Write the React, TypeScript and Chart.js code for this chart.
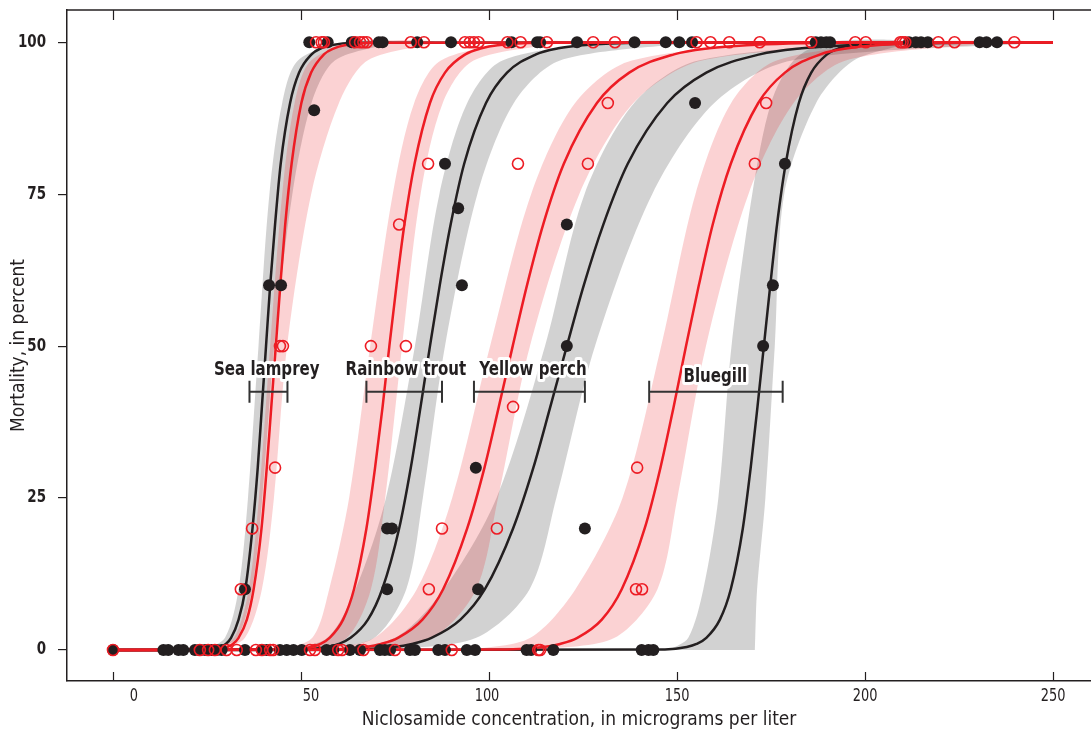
import React, { useEffect, useRef } from 'react';
import { Chart, registerables } from 'chart.js';

Chart.register(...registerables);

// ---------- axes ----------
const X_TICKS = [0, 50, 100, 150, 200, 250];
const Y_TICKS = [0, 25, 50, 75, 100];
const X_MIN = -12.23;
const X_MAX = 260.1;
const Y_MIN = -5.1;
const Y_MAX = 105.3;

// ---------- fitted curves: x (µg/L) read at each mortality level (%) ----------
const CURVE_LEVELS = [0, 0.1, 0.5, 1, 2, 5, 10, 20, 30, 40, 50, 60, 70, 80, 90, 95, 98, 99, 99.5, 99.9, 100];
const LAMPREY_BLACK = [0, 25.7, 28.6, 30.0, 31.4, 33.4, 35.2, 37.1, 38.5, 39.6, 40.7, 41.8, 43.1, 44.6, 47.1, 49.5, 52.8, 55.3, 57.9, 64.5, 250];
const LAMPREY_RED = [0, 27.3, 30.4, 31.9, 33.4, 35.6, 37.4, 39.5, 40.9, 42.1, 43.3, 44.5, 45.8, 47.5, 50.1, 52.7, 56.1, 58.8, 61.6, 68.6, 250];
const TROUT_RED = [0, 47.7, 52.8, 55.2, 57.6, 61.2, 64.1, 67.4, 69.7, 71.7, 73.5, 75.4, 77.5, 80.2, 84.3, 88.3, 93.7, 98.0, 102.3, 113.2, 250];
const TROUT_BLACK = [0, 50.5, 57.0, 60.0, 63.2, 67.8, 71.6, 76.1, 79.2, 81.8, 84.3, 86.9, 89.8, 93.4, 99.2, 104.8, 112.5, 118.4, 124.8, 140.6, 250];
const PERCH_RED = [0, 58.3, 67.1, 71.3, 75.8, 82.3, 87.8, 94.2, 98.8, 102.6, 106.3, 110.1, 114.4, 119.9, 128.7, 137.3, 149.2, 158.5, 168.5, 193.8, 250];
const PERCH_BLACK = [0, 64.4, 74.6, 79.5, 84.7, 92.4, 98.9, 106.4, 111.8, 116.3, 120.7, 125.2, 130.4, 136.9, 147.4, 157.8, 172.0, 183.2, 195.3, 226.2, 250];
const BLUEGILL_RED = [0, 104.9, 114.5, 118.9, 123.5, 130.0, 135.3, 141.4, 145.6, 149.1, 152.4, 155.8, 159.5, 164.3, 171.6, 178.7, 188.1, 195.4, 202.9, 221.4, 250];
const BLUEGILL_BLACK = [0, 146.8, 152.6, 155.2, 157.8, 161.4, 164.3, 167.5, 169.6, 171.4, 173.1, 174.8, 176.6, 178.9, 182.4, 185.7, 189.9, 193.1, 196.3, 204.0, 250];

// ---------- confidence bands: left / right edge x at each level (%) ----------
const BAND_LEVELS = [0, 2, 10, 25, 50, 75, 90, 97, 100];
const LAMPREY_BLACK_LO = [24.4, 29.8, 33.4, 35.9, 38.7, 41.6, 45.0, 49.2, 61.9];
const LAMPREY_BLACK_HI = [27.0, 33.0, 37.0, 39.7, 42.9, 47.7, 52.8, 59.0, 74.2];
const LAMPREY_RED_LO = [26.3, 32.2, 36.1, 38.8, 41.8, 45.0, 48.3, 52.7, 66.2];
const LAMPREY_RED_HI = [28.7, 35.1, 39.6, 42.8, 46.3, 52.7, 60.1, 67.7, 85.8];
const TROUT_RED_LO = [44.0, 53.0, 57.5, 62.8, 68.4, 74.4, 80.1, 87.2, 108.7];
const TROUT_RED_HI = [51.5, 62.2, 68.6, 72.4, 76.9, 81.8, 87.7, 95.9, 120.0];
const TROUT_BLACK_LO = [46.0, 57.0, 64.5, 72.6, 80.3, 86.8, 94.2, 103.6, 133.6];
const TROUT_BLACK_HI = [55.6, 69.5, 78.0, 82.4, 88.3, 96.9, 106.6, 118.9, 154.7];
const PERCH_RED_LO = [54.0, 69.5, 80.8, 90.2, 100.3, 111.2, 122.9, 138.0, 186.0];
const PERCH_RED_HI = [65.3, 84.9, 96.6, 102.4, 110.9, 124.0, 138.4, 156.7, 213.2];
const PERCH_BLACK_LO = [57.0, 75.0, 88.0, 102.0, 114.9, 125.4, 138.6, 155.7, 212.6];
const PERCH_BLACK_HI = [73.4, 96.6, 110.8, 117.9, 128.2, 143.4, 159.9, 180.5, 248.8];
const BLUEGILL_RED_LO = [95.0, 111.0, 123.0, 135.5, 145.8, 154.9, 164.4, 176.5, 212.5];
const BLUEGILL_RED_HI = [113.3, 133.4, 144.8, 150.1, 157.7, 169.0, 181.0, 194.9, 235.8];
const BLUEGILL_BLACK_LO = [148.0, 153.0, 157.0, 161.0, 164.5, 170.0, 175.0, 181.0, 190.0];
const BLUEGILL_BLACK_HI = [170.7, 170.8, 171.3, 173.5, 176.0, 178.5, 187.0, 197.0, 212.0];

// ---------- observations ----------
const BLACK_AT_100 = [52.2, 57.1, 63.5, 64.1, 70.7, 71.7, 80.9, 89.9, 106.0, 112.8, 113.6, 123.4, 138.7, 147.0, 150.6, 154.0, 186.9, 188.3, 189.7, 190.7, 211.7, 213.5, 214.9, 216.7, 230.5, 232.3, 235.1];
const RED_AT_100 = [54.0, 55.5, 56.1, 64.4, 65.7, 66.6, 67.5, 79.2, 82.7, 93.6, 94.9, 96.0, 97.2, 104.9, 108.4, 115.4, 127.7, 133.5, 155.2, 158.9, 163.9, 172.0, 185.7, 197.4, 200.2, 209.4, 210.0, 210.7, 219.5, 223.8, 239.7];
const BLACK_AT_0 = [0, 13.4, 14.7, 17.4, 18.7, 21.8, 23.1, 24.5, 26.2, 27.6, 28.9, 35.1, 39.6, 40.9, 44.4, 46.2, 48.0, 50.2, 56.8, 58.6, 63.0, 65.7, 71.0, 72.3, 73.7, 79.0, 80.3, 86.5, 88.3, 94.1, 96.3, 110.0, 111.2, 117.1, 140.6, 142.4, 143.7];
const RED_AT_0 = [0, 23.1, 25.3, 27.1, 30.2, 32.9, 38.0, 39.6, 41.8, 42.6, 52.4, 53.7, 59.9, 60.9, 66.6, 75.0, 90.1, 113.1, 113.6];
const BLACK_MID_X = [53.5, 41.5, 44.7, 35.1, 72.9, 74.2, 72.9, 88.3, 91.8, 92.8, 96.5, 97.1, 120.7, 120.7, 125.5, 154.8, 172.9, 175.5, 178.7];
const BLACK_MID_Y = [88.8, 60, 60, 10, 20, 20, 10, 80, 72.7, 60, 30, 10, 70, 50, 20, 90, 50, 60, 80];
const RED_MID_X = [34.0, 37.0, 43.1, 44.4, 45.2, 68.6, 77.9, 76.1, 83.8, 87.5, 84.0, 106.4, 107.7, 102.1, 126.3, 131.6, 139.4, 139.1, 140.7, 170.7, 173.7];
const RED_MID_Y = [10, 20, 30, 50, 50, 50, 50, 70, 80, 20, 10, 40, 80, 20, 80, 90, 30, 10, 10, 80, 90];

// ---------- species annotation (interval brackets) ----------
const SPECIES = ['Sea lamprey', 'Rainbow trout', 'Yellow perch', 'Bluegill'];
const BRACKET_LOW = [36.3, 67.4, 96.0, 142.6];
const BRACKET_HIGH = [46.4, 87.5, 125.5, 178.1];
const BRACKET_Y = 42.5;

// ---------- styling ----------
const LABEL_ANCHOR = [
  { x: 40.9, y: 46.1 },
  { x: 77.9, y: 46.1 },
  { x: 111.7, y: 46.0 },
  { x: 160.2, y: 44.9 },
];
const X_LABEL_SHIFT_PX = [21, 10, -2, 0, 0, 0];
const FONT = '"DejaVu Sans Condensed", "DejaVu Sans", sans-serif';
const INK = '#231f20';
const RED = '#ed1c24';
const GREY_BAND = 'rgba(60, 60, 60, 0.23)';
const PINK_BAND = 'rgba(237, 28, 36, 0.2)';

const toCurve = (xs: number[]) => xs.map((x, i) => ({ x, y: CURVE_LEVELS[i] }));
const toBand = (lo: number[], hi: number[]) => [
  ...lo.map((x, i) => ({ x, y: BAND_LEVELS[i] })),
  ...hi.map((x, i) => ({ x, y: BAND_LEVELS[i] })).reverse(),
];
const atLevel = (xs: number[], y: number) => xs.map((x) => ({ x, y }));
const pairs = (xs: number[], ys: number[]) => xs.map((x, i) => ({ x, y: ys[i] }));

function squeezedText(ctx: any, text: string, x: number, y: number, sx: number, stroke: boolean) {
  ctx.save();
  ctx.translate(x, y);
  ctx.scale(sx, 1);
  if (stroke) ctx.strokeText(text, 0, 0);
  else ctx.fillText(text, 0, 0);
  ctx.restore();
}

const decor = {
  id: 'decor',
  afterDatasetsDraw(chart: any) {
    const { ctx, scales } = chart;
    const xs = scales.x;
    const ys = scales.y;
    ctx.save();
    ctx.strokeStyle = '#333333';
    ctx.lineWidth = 2;
    const by = ys.getPixelForValue(BRACKET_Y);
    BRACKET_LOW.forEach((lo: number, i: number) => {
      const x0 = xs.getPixelForValue(lo);
      const x1 = xs.getPixelForValue(BRACKET_HIGH[i]);
      ctx.beginPath();
      ctx.moveTo(x0, by);
      ctx.lineTo(x1, by);
      ctx.moveTo(x0, by - 11);
      ctx.lineTo(x0, by + 11);
      ctx.moveTo(x1, by - 11);
      ctx.lineTo(x1, by + 11);
      ctx.stroke();
    });
    ctx.font = `bold 19px ${FONT}`;
    ctx.textAlign = 'center';
    ctx.textBaseline = 'middle';
    ctx.lineJoin = 'round';
    ctx.strokeStyle = '#ffffff';
    ctx.lineWidth = 6;
    SPECIES.forEach((s: string, i: number) => {
      squeezedText(ctx, s, xs.getPixelForValue(LABEL_ANCHOR[i].x), ys.getPixelForValue(LABEL_ANCHOR[i].y), 0.88, true);
    });
    ctx.fillStyle = INK;
    SPECIES.forEach((s: string, i: number) => {
      squeezedText(ctx, s, xs.getPixelForValue(LABEL_ANCHOR[i].x), ys.getPixelForValue(LABEL_ANCHOR[i].y), 0.88, false);
    });
    ctx.restore();
  },
  afterDraw(chart: any) {
    const { ctx, chartArea: a, scales } = chart;
    const xs = scales.x;
    const ys = scales.y;
    ctx.save();
    ctx.strokeStyle = INK;
    ctx.lineWidth = 1.5;
    ctx.beginPath();
    ctx.moveTo(a.left - 0.75, a.top);
    ctx.lineTo(a.right, a.top);
    ctx.stroke();
    ctx.lineWidth = 1.2;
    X_TICKS.forEach((v: number) => {
      const px = Math.round(xs.getPixelForValue(v)) + 0.5;
      ctx.beginPath();
      ctx.moveTo(px, a.top);
      ctx.lineTo(px, a.top + 10);
      ctx.moveTo(px, a.bottom);
      ctx.lineTo(px, a.bottom - 9);
      ctx.stroke();
    });
    ctx.fillStyle = INK;
    ctx.font = `18px ${FONT}`;
    ctx.textAlign = 'center';
    ctx.textBaseline = 'middle';
    X_TICKS.forEach((v: number, i: number) => {
      squeezedText(ctx, String(v), xs.getPixelForValue(v) + X_LABEL_SHIFT_PX[i], a.bottom + 15, 0.8, false);
    });
    ctx.font = `bold 17px ${FONT}`;
    ctx.textAlign = 'right';
    Y_TICKS.forEach((v: number) => {
      squeezedText(ctx, String(v), a.left - 21, ys.getPixelForValue(v), 0.88, false);
    });
    ctx.restore();
  },
};

export default function App() {
  const ref = useRef<HTMLCanvasElement | null>(null);

  useEffect(() => {
    if (!ref.current) return;
    const band = (lo: number[], hi: number[], color: string, order: number) => ({
      data: toBand(lo, hi),
      showLine: true,
      fill: 'shape',
      backgroundColor: color,
      borderColor: 'rgba(0,0,0,0)',
      borderWidth: 0,
      pointRadius: 0,
      tension: 0.3,
      order,
    });
    const curve = (xs: number[], color: string, order: number) => ({
      data: toCurve(xs),
      showLine: true,
      fill: false,
      borderColor: color,
      borderWidth: 2.5,
      pointRadius: 0,
      cubicInterpolationMode: 'monotone',
      order,
    });
    const blackPts = (data: any[]) => ({
      data,
      showLine: false,
      pointRadius: 6,
      pointHoverRadius: 6,
      backgroundColor: INK,
      borderColor: INK,
      borderWidth: 0,
      order: 1,
    });
    const redPts = (data: any[]) => ({
      data,
      showLine: false,
      pointRadius: 5.5,
      pointHoverRadius: 5.5,
      backgroundColor: 'rgba(255,255,255,0)',
      borderColor: RED,
      borderWidth: 1.6,
      order: 0,
    });

    const chart = new Chart(ref.current, {
      type: 'scatter',
      data: {
        datasets: [
          band(LAMPREY_BLACK_LO, LAMPREY_BLACK_HI, GREY_BAND, 11),
          band(TROUT_BLACK_LO, TROUT_BLACK_HI, GREY_BAND, 11),
          band(PERCH_BLACK_LO, PERCH_BLACK_HI, GREY_BAND, 11),
          band(BLUEGILL_BLACK_LO, BLUEGILL_BLACK_HI, GREY_BAND, 11),
          band(LAMPREY_RED_LO, LAMPREY_RED_HI, PINK_BAND, 10),
          band(TROUT_RED_LO, TROUT_RED_HI, PINK_BAND, 10),
          band(PERCH_RED_LO, PERCH_RED_HI, PINK_BAND, 10),
          band(BLUEGILL_RED_LO, BLUEGILL_RED_HI, PINK_BAND, 10),
          curve(LAMPREY_BLACK, INK, 3),
          curve(TROUT_BLACK, INK, 3),
          curve(PERCH_BLACK, INK, 3),
          curve(BLUEGILL_BLACK, INK, 3),
          curve(LAMPREY_RED, RED, 2),
          curve(TROUT_RED, RED, 2),
          curve(PERCH_RED, RED, 2),
          curve(BLUEGILL_RED, RED, 2),
          blackPts([...atLevel(BLACK_AT_0, 0), ...atLevel(BLACK_AT_100, 100), ...pairs(BLACK_MID_X, BLACK_MID_Y)]),
          redPts([...atLevel(RED_AT_0, 0), ...atLevel(RED_AT_100, 100), ...pairs(RED_MID_X, RED_MID_Y)]),
        ] as any,
      },
      options: {
        animation: false,
        responsive: false,
        devicePixelRatio: 1,
        events: [],
        layout: { autoPadding: false, padding: { top: 10, right: 0, bottom: 0, left: 0 } },
        plugins: { legend: { display: false }, tooltip: { enabled: false } },
        scales: {
          x: {
            type: 'linear',
            min: X_MIN,
            max: X_MAX,
            afterBuildTicks: (s: any) => {
              s.ticks = X_TICKS.map((value) => ({ value }));
            },
            afterFit: (s: any) => {
              s.height = 55;
              s.paddingLeft = 0;
              s.paddingRight = 0;
              s.paddingTop = 0;
              s.paddingBottom = 0;
            },
            grid: { display: false, drawTicks: false },
            border: { display: true, color: INK, width: 1.5 },
            ticks: { display: false },
            title: {
              display: true,
              text: 'Niclosamide concentration, in micrograms per liter',
              color: INK,
              font: { family: FONT, size: 19 },
              padding: { top: 0, bottom: 5 },
            },
          },
          y: {
            type: 'linear',
            min: Y_MIN,
            max: Y_MAX,
            afterBuildTicks: (s: any) => {
              s.ticks = Y_TICKS.map((value) => ({ value }));
            },
            afterFit: (s: any) => {
              s.width = 67;
              s.paddingLeft = 0;
              s.paddingRight = 0;
              s.paddingTop = 0;
              s.paddingBottom = 0;
            },
            grid: { display: true, drawOnChartArea: false, drawTicks: true, tickLength: 9, color: INK, lineWidth: 1.2 },
            border: { display: true, color: INK, width: 1.5 },
            ticks: { display: false },
            title: {
              display: true,
              text: 'Mortality, in percent',
              color: INK,
              font: { family: FONT, size: 19 },
              padding: { top: 8, bottom: 0 },
            },
          },
        },
      },
      plugins: [decor],
    } as any);
    return () => chart.destroy();
  }, []);

  return (
    <canvas
      ref={ref}
      width={1091}
      height={736}
      style={{ position: 'absolute', left: 0, top: 0, width: 1091, height: 736, display: 'block', background: '#ffffff' }}
    />
  );
}
